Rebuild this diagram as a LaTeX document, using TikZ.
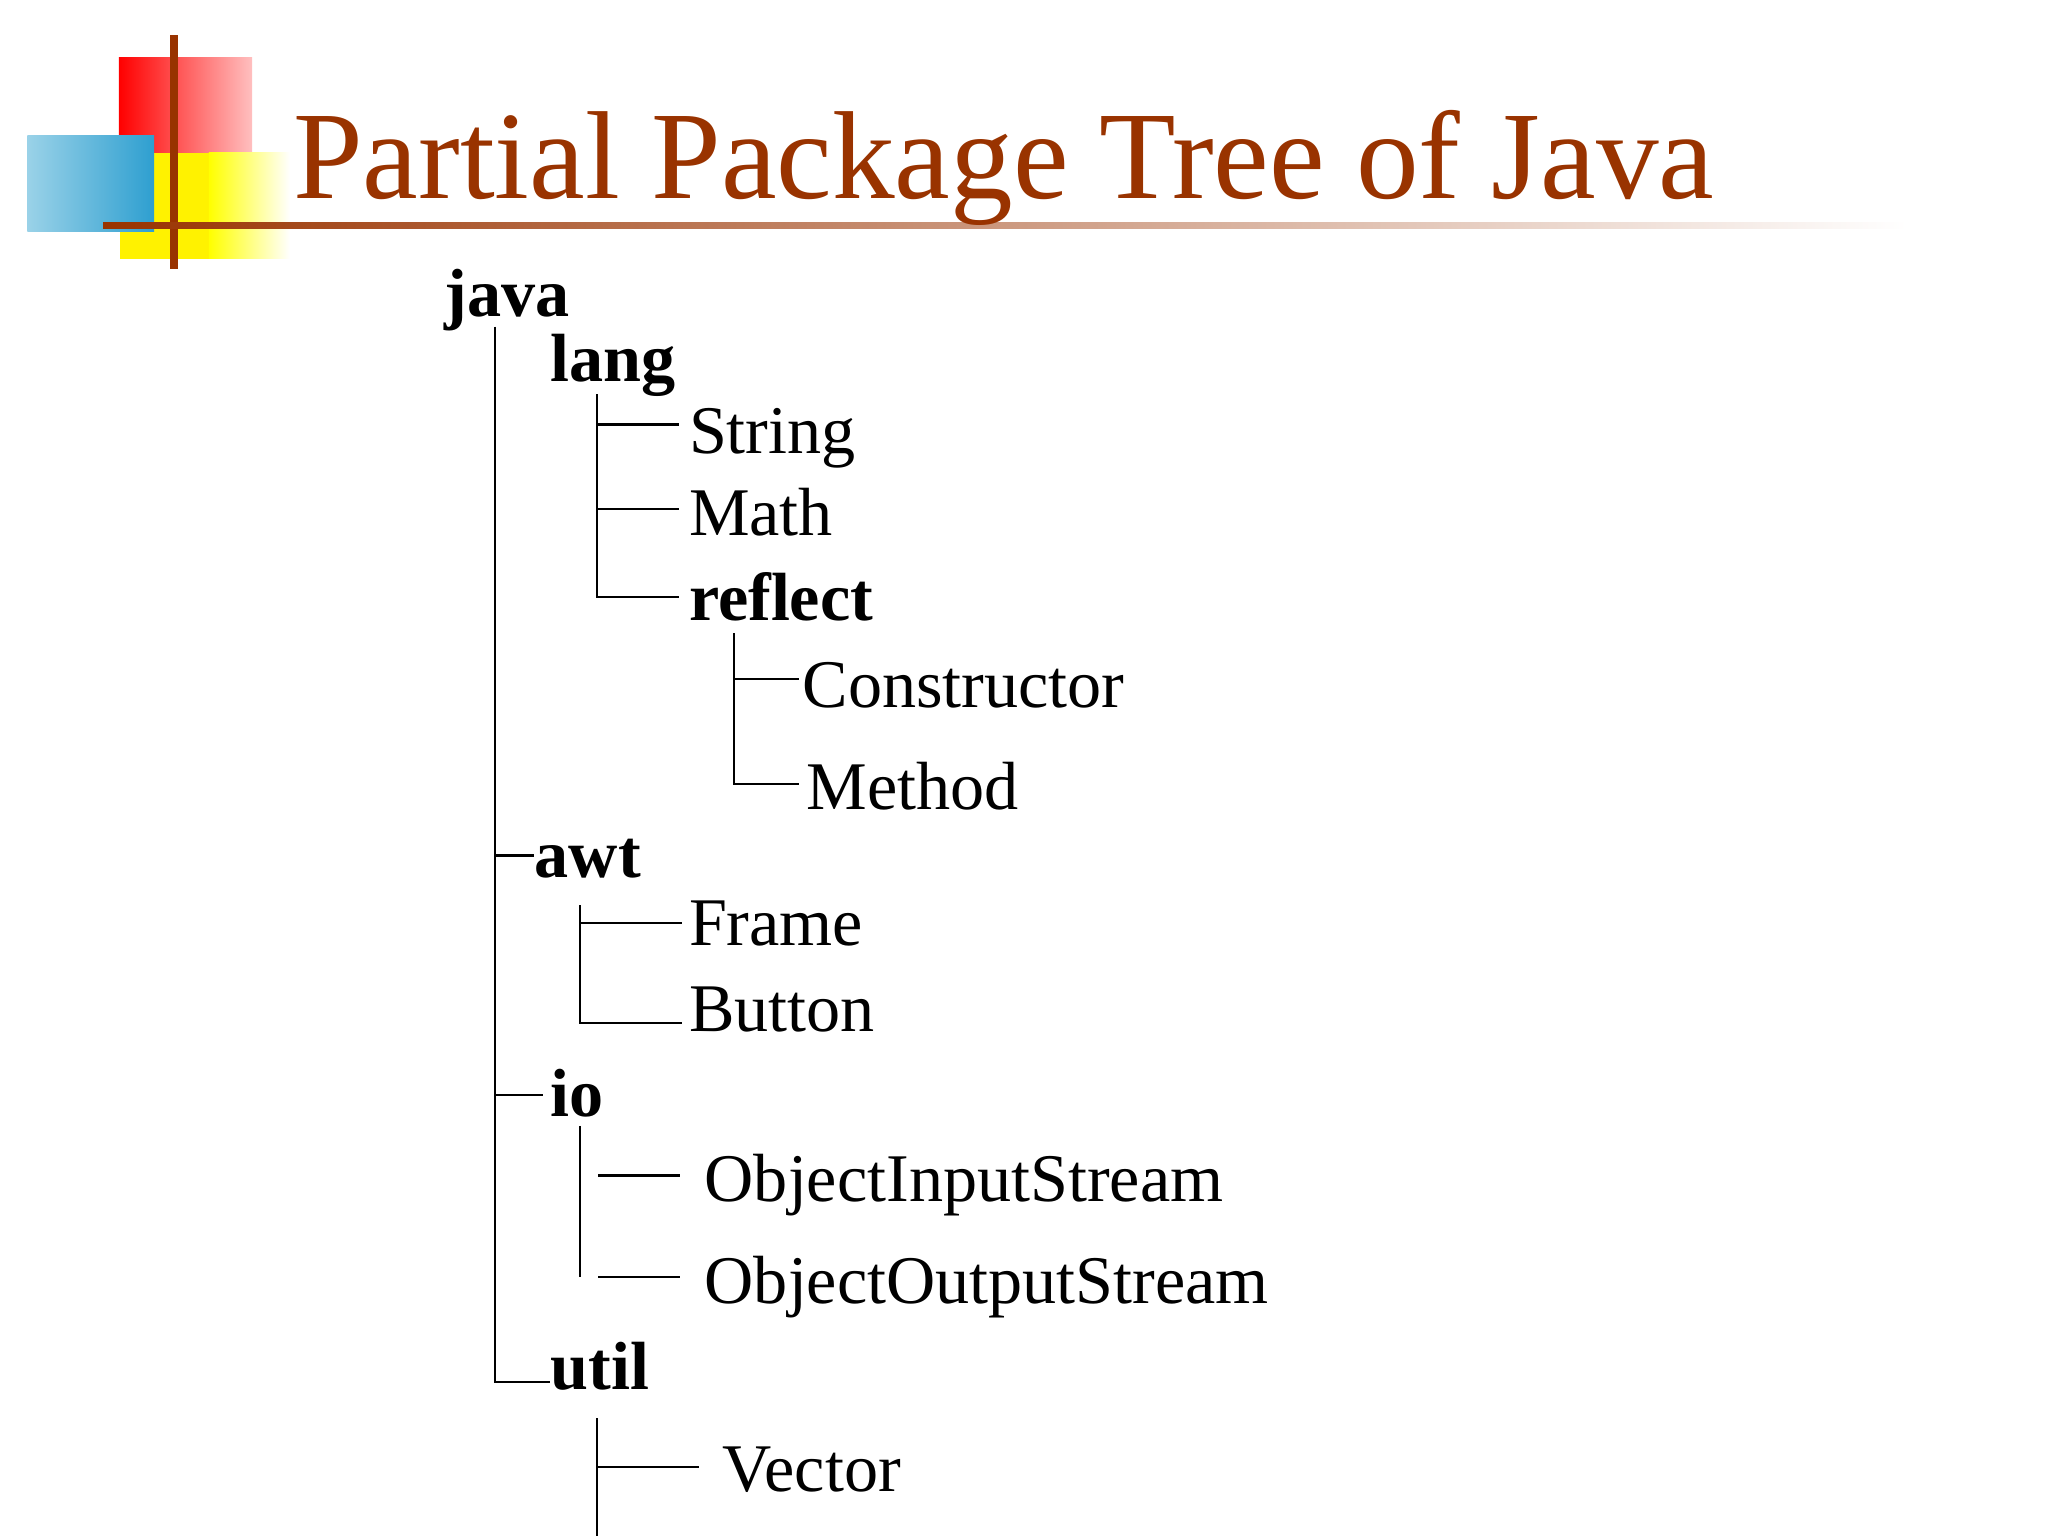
\documentclass[tikz,border=0pt]{standalone}
\usepackage{fontspec}
\setmainfont{Liberation Serif}
\definecolor{ttl}{HTML}{993300}
\definecolor{blueA}{HTML}{2E9FD0}
\definecolor{blueB}{HTML}{9AD2E8}
\begin{document}
\begin{tikzpicture}[x=0.0132cm,y=-0.0132cm,
  lbl/.style={anchor=base west,inner sep=0pt,font=\fontsize{19.6}{23}\selectfont},
  pkg/.style={lbl,font=\fontsize{19.6}{23}\selectfont\bfseries},
  br/.style={line width=0.6pt,black}]
\useasboundingbox (0,0) rectangle (1568,1176);
% logo
\shade[left color=red,right color=red!25] (91,44) rectangle (193,117);
\fill[yellow] (92,117) rectangle (160,198);
\shade[left color=yellow,right color=white] (160,117) rectangle (222,198);
\shade[left color=blueB,right color=blueA] (21,104) rectangle (118,177);
\draw[ttl,line width=2.2pt] (133,27) -- (133,206);
\shade[left color=ttl,right color=white] (79,170) rectangle (1460,175);
\node[anchor=base west,inner sep=0pt,text=ttl,font=\fontsize{36}{42}\selectfont] (title) at (224,152) {Partial Package Tree of Java};
% labels
\node[pkg] (java) at (340,242) {java};
\node[pkg] (lang) at (421,292) {lang};
\node[lbl] (string) at (527,347) {String};
\node[lbl] (math) at (527,410) {Math};
\node[pkg] (reflect) at (527,475) {reflect};
\node[lbl] (ctor) at (614,542) {Constructor};
\node[lbl] (method) at (617,620) {Method};
\node[pkg] (awt) at (409,672) {awt};
\node[lbl] (frame) at (527,724) {Frame};
\node[lbl] (button) at (527,790) {Button};
\node[pkg] (io) at (421,855) {io};
\node[lbl] (ois) at (539,920) {ObjectInputStream};
\node[lbl] (oos) at (539,998) {ObjectOutputStream};
\node[pkg] (util) at (421,1064) {util};
\node[lbl] (vector) at (553,1142) {Vector};
% branches
\draw[br] (379,250) -- (379,1058) -- (421,1058);
\draw[br] (379,655) -- (409,655);
\draw[br] (379,838) -- (416,838);
\draw[br] (457,302) -- (457,457) -- (520,457);
\draw[br] (457,325) -- (520,325);
\draw[br] (457,390) -- (520,390);
\draw[br] (562,485) -- (562,600) -- (612,600);
\draw[br] (562,520) -- (612,520);
\draw[br] (444,693) -- (444,783) -- (522,783);
\draw[br] (444,707) -- (522,707);
\draw[br] (444,862) -- (444,978);
\draw[br] (458,900) -- (521,900);
\draw[br] (458,978) -- (521,978);
\draw[br] (457,1086) -- (457,1176);
\draw[br] (457,1123) -- (535,1123);
\end{tikzpicture}
\end{document}
